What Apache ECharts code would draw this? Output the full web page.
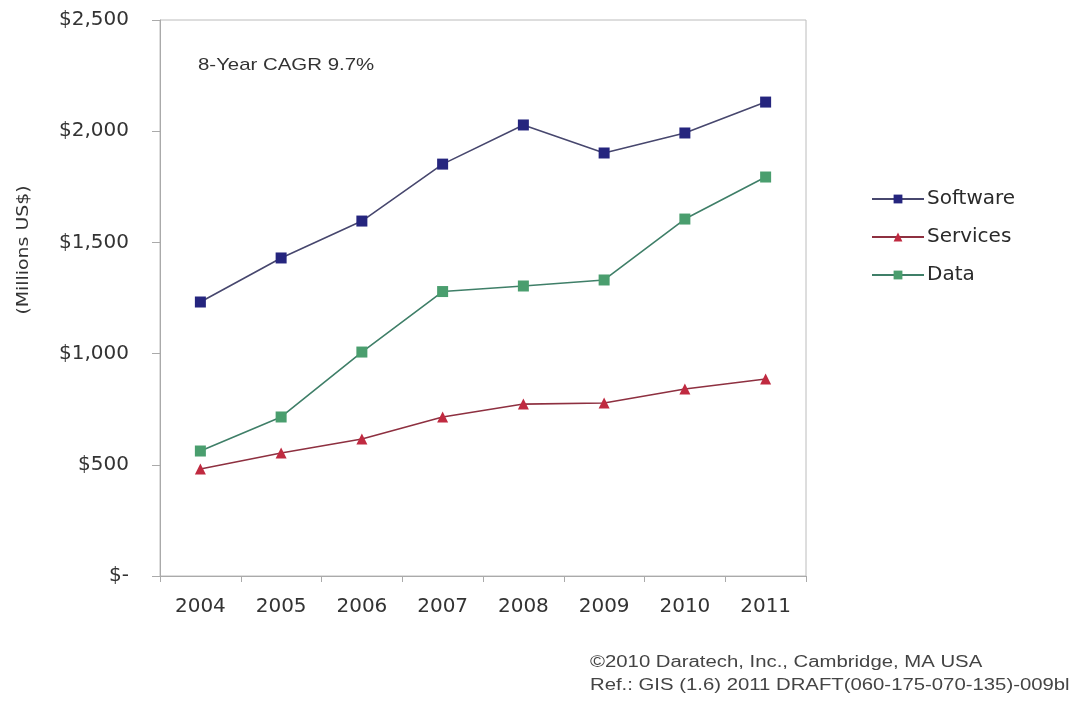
<!DOCTYPE html>
<html>
	<head>
		<meta charset="utf-8" />
		<title>GIS Revenue</title>
		<script src="https://cdn.jsdelivr.net/npm/echarts@6/dist/echarts.min.js"></script>
		<style>
			body { margin: 0; background: #fff; }
			#main { width: 1085px; height: 708px; }
		</style>
	</head>
	<body>
		<div id="main"></div>
		<script type="text/javascript">
			// years on the x axis
			var years = ['2004', '2005', '2006', '2007', '2008', '2009', '2010', '2011'];
			// values, millions US$
			var software = [1232, 1430, 1596, 1852, 2028, 1902, 1992, 2131];
			var services = [481, 553, 616, 715, 773, 778, 841, 886];
			var data = [562, 715, 1007, 1279, 1304, 1331, 1605, 1794];
			var yTicks = [0, 500, 1000, 1500, 2000, 2500];

			var myChart = echarts.init(document.getElementById('main'));
			var font = 'Liberation Sans, Arial, sans-serif';
			var wide = 'DejaVu Sans, sans-serif';

			function money(v) {
				if (v === 0) return '$-';
				return '$' + v.toLocaleString('en-US');
			}

			var option = {
				backgroundColor: '#fff',
				animation: false,
				textStyle: { fontFamily: wide },
				grid: {
					left: 160, top: 20, width: 646, height: 556,
					show: true, borderColor: '#bcbcbc', borderWidth: 1
				},
				legend: {
					orient: 'vertical',
					left: 866, top: 184,
					itemWidth: 52, itemHeight: 11, itemGap: 18,
					textStyle: { fontSize: 20, color: '#2a2a2a', fontFamily: wide, padding: [0, 0, 0, -2] },
					data: ['Software', 'Services', 'Data']
				},
				graphic: [
					{ type: 'text', x: 24, y: 250, rotation: Math.PI / 2, scaleX: 1.18,
					  style: { text: '(Millions US$)', fill: '#333', font: '16px ' + wide, align: 'center', verticalAlign: 'middle' } },
					{ type: 'text', x: 198, y: 65, scaleX: 1.2,
					  style: { text: '8-Year CAGR 9.7%', fill: '#333', font: '17px ' + font, verticalAlign: 'middle' } },
					{ type: 'text', x: 590, y: 663, scaleX: 1.27,
					  style: { text: '\u00a92010 Daratech, Inc., Cambridge, MA USA', fill: '#444', font: '16px ' + font, verticalAlign: 'middle' } },
					{ type: 'text', x: 590, y: 686, scaleX: 1.27,
					  style: { text: 'Ref.: GIS (1.6) 2011 DRAFT(060-175-070-135)-009bl', fill: '#444', font: '16px ' + font, verticalAlign: 'middle' } }
				],
				xAxis: {
					type: 'category',
					data: years,
					boundaryGap: true,
					axisLine: { lineStyle: { color: '#aaa' } },
					axisTick: { show: true, length: 6, lineStyle: { color: '#aaa' } },
					axisLabel: { fontSize: 20, color: '#333', margin: 21, fontFamily: wide },
					splitLine: { show: false }
				},
				yAxis: {
					type: 'value',
					min: yTicks[0], max: yTicks[yTicks.length - 1], interval: 500,
					axisLine: { show: true, lineStyle: { color: '#aaa' } },
					axisTick: { show: true, length: 8, lineStyle: { color: '#aaa' } },
					axisLabel: { fontSize: 20, color: '#333', margin: 31, formatter: money, fontFamily: wide },
					splitLine: { show: false }
				},
				series: [
					{
						name: 'Software', type: 'line', data: software,
						symbol: 'rect', symbolSize: 11,
						itemStyle: { color: '#25257e' },
						lineStyle: { color: '#47476e', width: 1.6 }
					},
					{
						name: 'Services', type: 'line', data: services,
						symbol: 'triangle', symbolSize: 11,
						itemStyle: { color: '#c02a40' },
						lineStyle: { color: '#8e3040', width: 1.6 }
					},
					{
						name: 'Data', type: 'line', data: data,
						symbol: 'rect', symbolSize: 11,
						itemStyle: { color: '#4a9e6e' },
						lineStyle: { color: '#3f7f68', width: 1.6 }
					}
				]
			};

			myChart.setOption(option);
		</script>
	</body>
</html>
